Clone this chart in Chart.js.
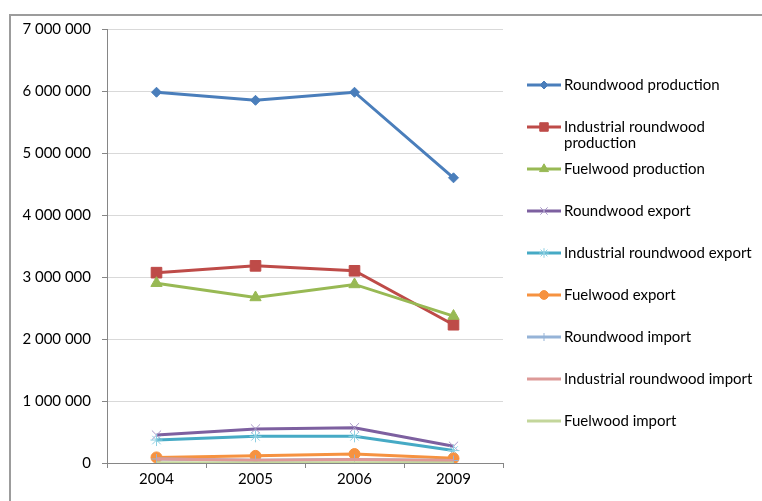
<!DOCTYPE html>
<html>
<head>
<meta charset="utf-8">
<script src="https://cdn.jsdelivr.net/npm/chart.js@4.4.1/dist/chart.umd.min.js"></script>
<style>
    html, body { margin: 0; padding: 0; background: #fff; overflow: hidden; }
    #wrap { position: relative; width: 762px; height: 501px; }
    #frame { position: absolute; left: 9px; top: 14px; width: 900px; height: 700px; border: 2px solid #9c9c9c; box-sizing: border-box; }
    #myChart { position: absolute; left: 0; top: 0; }
</style>
</head>
<body>
<div id="wrap">
    <div id="frame"></div>
    <canvas id="myChart" width="762" height="501"></canvas>
</div>
<script>
// x軸
const years = ['2004', '2005', '2006', '2009'];

// 系列名
const seriesNames = [
    'Roundwood production',
    'Industrial roundwood production',
    'Fuelwood production',
    'Roundwood export',
    'Industrial roundwood export',
    'Fuelwood export',
    'Roundwood import',
    'Industrial roundwood import',
    'Fuelwood import'
];

// 値 (m3)
const roundwoodProduction = [5980000, 5850000, 5980000, 4600000];
const industrialProduction = [3070000, 3180000, 3100000, 2230000];
const fuelwoodProduction = [2900000, 2670000, 2880000, 2370000];
const roundwoodExport = [450000, 550000, 570000, 270000];
const industrialExport = [370000, 430000, 430000, 200000];
const fuelwoodExport = [90000, 115000, 145000, 75000];
const roundwoodImport = [65000, 45000, 55000, 40000];
const industrialImport = [65000, 45000, 55000, 40000];
const fuelwoodImport = [3000, 2000, 3000, 2000];

const FONT = 'Lato, "Open Sans", sans-serif';
const FONT_SIZE = 15;

function fmt(v) {
    return String(v).replace(/\B(?=(\d{3})+(?!\d))/g, ' ');
}

function series(i, values, color, markerColor, style, radius) {
    return {
        label: seriesNames[i],
        data: values,
        borderColor: color,
        backgroundColor: color,
        borderWidth: 3,
        pointStyle: style,
        pointRadius: radius,
        pointHoverRadius: radius,
        pointBackgroundColor: markerColor,
        pointBorderColor: markerColor,
        pointBorderWidth: 1,
        tension: 0,
        fill: false,
        order: 20 - i   // Excelと同じく後の系列を上に描く
    };
}

const datasets = [
    series(0, roundwoodProduction, '#4a7ebb', '#4a7ebb', 'rectRot', 5),
    series(1, industrialProduction, '#be4b48', '#be4b48', 'rect', 7.5),
    series(2, fuelwoodProduction, '#98b954', '#98b954', 'triangle', 6.5),
    series(3, roundwoodExport, '#7d60a0', '#a898c8', 'crossRot', 6.5),
    series(4, industrialExport, '#46aac5', '#8ccfe2', 'star', 6),
    series(5, fuelwoodExport, '#f69240', '#f69240', 'circle', 5.5),
    series(6, roundwoodImport, '#95b3d7', '#95b3d7', 'cross', 5),
    series(7, industrialImport, '#dd9a98', '#dd9a98', false, 0),
    series(8, fuelwoodImport, '#c3d69b', '#c3d69b', false, 0)
];

function wrapText(ctx, text, maxWidth) {
    const words = text.split(' ');
    const lines = [];
    let cur = '';
    for (const w of words) {
        const test = cur ? cur + ' ' + w : w;
        if (ctx.measureText(test).width > maxWidth && cur) {
            lines.push(cur);
            cur = w;
        } else {
            cur = test;
        }
    }
    if (cur) lines.push(cur);
    return lines;
}

// 右側の凡例
const sideLegend = {
    id: 'sideLegend',
    afterDraw(chart) {
        const ctx = chart.ctx;
        ctx.save();
        ctx.font = FONT_SIZE + 'px ' + FONT;
        ctx.textBaseline = 'middle';
        ctx.textAlign = 'left';
        let y = 85;
        chart.data.datasets.forEach(ds => {
            ctx.strokeStyle = ds.borderColor;
            ctx.lineWidth = 3;
            ctx.beginPath();
            ctx.moveTo(527, y);
            ctx.lineTo(561, y);
            ctx.stroke();
            if (ds.pointStyle && ds.pointRadius > 0) {
                ctx.fillStyle = ds.pointBackgroundColor;
                ctx.strokeStyle = ds.pointBorderColor;
                ctx.lineWidth = 1;
                Chart.helpers.drawPoint(ctx, {
                    pointStyle: ds.pointStyle,
                    rotation: 0,
                    radius: ds.pointRadius * 0.8,
                    borderWidth: 1
                }, 544, y);
            }
            ctx.fillStyle = '#000';
            const lines = wrapText(ctx, ds.label, 762 - 564 - 4);
            lines.forEach((t, k) => ctx.fillText(t, 564, y + k * 16));
            y += 42;
        });
        ctx.restore();
    }
};

const config = {
    type: 'line',
    data: {
        labels: years,
        datasets: datasets
    },
    options: {
        responsive: false,
        animation: false,
        events: [],
        layout: {
            padding: { top: 29, right: 259, bottom: 0, left: 0 }
        },
        scales: {
            x: {
                offset: true,
                afterFit(scale) { scale.height = 38; },
                grid: {
                    display: true,
                    drawOnChartArea: false,
                    offset: true,
                    tickLength: 5,
                    tickColor: '#868686'
                },
                border: { color: '#868686', width: 1 },
                ticks: {
                    padding: 2,
                    color: '#000',
                    font: { family: FONT, size: FONT_SIZE }
                }
            },
            y: {
                min: 0,
                max: 7000000,
                afterFit(scale) { scale.width = 107; },
                grid: {
                    color: '#d9d9d9',
                    tickColor: '#868686',
                    tickLength: 5
                },
                border: { color: '#868686', width: 1 },
                ticks: {
                    stepSize: 1000000,
                    padding: 11,
                    color: '#000',
                    font: { family: FONT, size: FONT_SIZE },
                    callback: v => fmt(v)
                }
            }
        },
        plugins: {
            legend: { display: false },
            tooltip: { enabled: false },
            title: { display: false }
        }
    },
    plugins: [sideLegend]
};

new Chart(document.getElementById('myChart'), config);
</script>
</body>
</html>
